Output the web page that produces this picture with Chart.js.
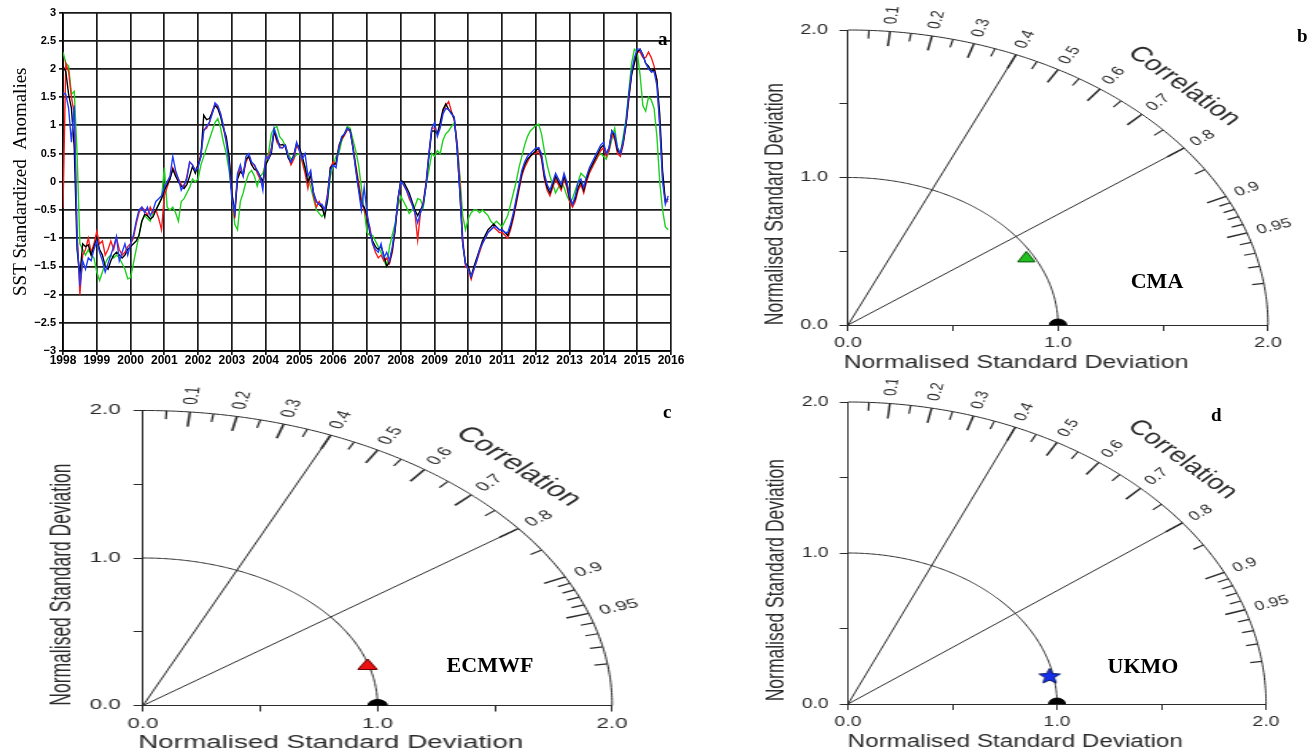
<!DOCTYPE html>
<html>
<head>
<meta charset="utf-8">
<title>SST anomalies and Taylor diagrams</title>
<script src="https://cdn.jsdelivr.net/npm/chart.js@4.4.1/dist/chart.umd.min.js"></script>
<style>
  html, body { margin: 0; padding: 0; background: #fff; }
  body { width: 1314px; height: 753px; position: relative; overflow: hidden; }
  .panel { position: absolute; transform-origin: 0 0; }
  .tag { position: absolute; font-family: "Liberation Serif", serif; font-weight: bold; color: #000; line-height: 1; white-space: nowrap; }
</style>
</head>
<body>
<canvas id="sstChart" width="700" height="372" style="position:absolute;left:0;top:0"></canvas>
<div class="panel" style="left:760px;top:0;transform:scaleX(1.4237)"><canvas id="taylorB" width="380" height="375"></canvas></div>
<div class="panel" style="left:40px;top:380px;transform:scaleX(1.59)"><canvas id="taylorC" width="390" height="373"></canvas></div>
<div class="panel" style="left:760px;top:380px;transform:scaleX(1.384)"><canvas id="taylorD" width="400" height="373"></canvas></div>

<div class="tag" style="left:658px;top:29px;font-size:19px">a</div>
<div class="tag" style="left:1297px;top:26px;font-size:19px">b</div>
<div class="tag" style="left:663px;top:402px;font-size:19px">c</div>
<div class="tag" style="left:1211px;top:405px;font-size:19px">d</div>
<div class="tag" style="left:1157px;top:270px;font-size:22px;transform:translateX(-50%)">CMA</div>
<div class="tag" style="left:490px;top:654px;font-size:22px;transform:translateX(-50%)">ECMWF</div>
<div class="tag" style="left:1143px;top:655px;font-size:22px;transform:translateX(-50%)">UKMO</div>

<script>
// monthly SST standardized anomalies, Jan 1998 - Dec 2015
const startYear = 1998;

const obsSST = [
  2.05, 1.95, 1.55, 1.3, 0.6, -1.2, -1.65, -1.1, -1.15, -1.12, -1.3, -1.15,
  -1.0, -1.2, -1.3, -1.5, -1.55, -1.4, -1.3, -1.25, -1.3, -1.35, -1.3, -1.2,
  -1.15, -1.1, -1.05, -0.95, -0.7, -0.58, -0.6, -0.66, -0.62, -0.5, -0.4, -0.3,
  -0.15, -0.05, 0.05, 0.22, 0.1, 0.0, -0.08, -0.12, -0.05, 0.1, 0.27, 0.15,
  0.3, 0.45, 1.18, 1.1, 1.12, 1.22, 1.35, 1.3, 1.15, 0.95, 0.8, 0.45,
  -0.2, -0.55, 0.05, 0.18, 0.12, 0.4, 0.45, 0.3, 0.22, 0.2, 0.1, 0.0,
  0.3, 0.4, 0.5, 0.9, 0.75, 0.65, 0.66, 0.62, 0.42, 0.35, 0.48, 0.68,
  0.6, 0.45, 0.25, 0.0, 0.12, -0.2, -0.35, -0.4, -0.45, -0.62, -0.3, 0.25,
  0.3, 0.33, 0.6, 0.78, 0.85, 0.95, 0.92, 0.6, 0.25, -0.1, -0.4, -0.45,
  -0.6, -0.9, -1.05, -1.15, -1.2, -1.15, -1.3, -1.5, -1.42, -1.2, -0.85, -0.3,
  0.02, 0.0, -0.1, -0.2, -0.35, -0.5, -0.6, -0.5, -0.4, -0.05, 0.45, 0.9,
  0.9, 0.85, 1.05, 1.28, 1.38, 1.28, 1.22, 1.12, 0.6, -0.2, -1.1, -1.45,
  -1.5, -1.68, -1.5, -1.35, -1.2, -1.05, -0.95, -0.85, -0.8, -0.75, -0.8, -0.85,
  -0.85, -0.9, -0.95, -0.8, -0.6, -0.35, -0.1, 0.15, 0.3, 0.4, 0.45, 0.5,
  0.55, 0.6, 0.45, 0.1, -0.1, -0.2, -0.05, 0.1, 0.0, -0.1, 0.1, -0.05,
  -0.3, -0.4, -0.3, -0.1, 0.0, -0.15, 0.05, 0.2, 0.3, 0.4, 0.5, 0.6,
  0.65, 0.5, 0.6, 0.9, 0.8, 0.55, 0.5, 0.7, 1.0, 1.5, 1.9, 2.1,
  2.3, 2.35, 2.25, 2.1, 2.05, 1.95, 2.0, 1.8, 1.2, 0.2, -0.35, -0.3
];

const ecmwfSST = [
  -0.47, 2.1, 1.95, 1.5, 1.2, -0.9, -2.0, -1.3, -1.2, -1.0, -1.25, -1.1,
  -0.88, -1.1, -1.05, -1.3, -1.2, -1.05, -1.2, -1.0, -1.2, -1.3, -1.25, -1.15,
  -1.1, -1.0, -0.75, -0.55, -0.45, -0.5, -0.6, -0.45, -0.55, -0.5, -0.65, -0.85,
  -0.25, -0.1, 0.05, 0.25, 0.15, 0.05, -0.05, -0.1, 0.1, 0.35, 0.3, 0.2,
  0.3, 0.5, 0.92, 0.95, 1.05, 1.25, 1.38, 1.33, 1.2, 0.95, 0.7, 0.4,
  -0.2, -0.65, 0.1, 0.25, 0.1, 0.35, 0.45, 0.3, 0.3, 0.15, 0.05, -0.05,
  0.4, 0.45, 0.6, 0.9, 0.7, 0.62, 0.6, 0.65, 0.45, 0.3, 0.4, 0.65,
  0.55, 0.35, 0.15, -0.12, 0.15, -0.25, -0.45, -0.35, -0.45, -0.5, -0.2, 0.25,
  0.35, 0.3, 0.65, 0.75, 0.82, 0.92, 0.9, 0.65, 0.3, 0.0, -0.3, -0.5,
  -0.65, -0.8, -1.1, -1.25, -1.35, -1.3, -1.4, -1.35, -1.45, -1.25, -0.85, -0.35,
  0.0, -0.05, -0.15, -0.3, -0.4, -0.55, -1.03, -0.55, -0.35, 0.0, 0.5, 0.95,
  0.95, 0.85, 1.0, 1.25, 1.35, 1.42, 1.25, 1.1, 0.7, 0.0, -1.0, -1.5,
  -1.55, -1.73, -1.55, -1.4, -1.25, -1.1, -1.0, -0.9, -0.85, -0.8, -0.85, -0.9,
  -0.9, -0.95, -1.0, -0.85, -0.65, -0.4, -0.15, 0.1, 0.25, 0.35, 0.45, 0.5,
  0.5, 0.55, 0.4, 0.05, -0.15, -0.25, -0.1, 0.05, -0.05, -0.15, 0.05, -0.1,
  -0.35, -0.45, -0.35, -0.15, -0.05, -0.2, 0.0, 0.15, 0.25, 0.35, 0.45, 0.55,
  0.6, 0.45, 0.55, 0.85, 0.75, 0.5, 0.45, 0.65, 1.0, 1.45, 1.9, 2.15,
  2.3, 2.3, 2.2, 2.2, 2.3, 2.2, 2.05, 1.8, 1.0, 0.1, -0.35, -0.35
];

const cmaSST = [
  2.3, 2.1, 2.05, 1.55, 1.6, 0.5, -1.1, -1.2, -1.3, -1.2, -1.3, -1.35,
  -1.6, -1.75, -1.6, -1.45, -1.35, -1.3, -1.35, -1.3, -1.35, -1.45, -1.55, -1.72,
  -1.7, -1.45, -1.2, -0.95, -0.7, -0.6, -0.65, -0.7, -0.55, -0.5, -0.4, -0.3,
  0.25, -0.45, -0.5, -0.45, -0.55, -0.7, -0.35, -0.3, -0.2, -0.1, 0.05, 0.0,
  0.05, 0.3, 0.45, 0.6, 0.75, 0.9, 1.05, 1.12, 0.95, 0.7, 0.5, 0.2,
  -0.2, -0.75, -0.85, -0.35, -0.2, 0.0, 0.15, 0.2, 0.1, -0.08, 0.09, 0.15,
  0.33, 0.5, 0.85, 0.95, 0.98, 0.8, 0.74, 0.63, 0.5, 0.4, 0.42, 0.48,
  0.5, 0.39, 0.27, 0.1, -0.1, -0.3, -0.5, -0.56, -0.62, -0.55, -0.35, 0.1,
  0.3, 0.45, 0.5, 0.72, 0.85, 0.98, 0.95, 0.75, 0.55, 0.3, -0.1, -0.5,
  -0.9, -0.95, -0.95, -1.05, -1.15, -1.25, -1.4, -1.5, -1.15, -0.94, -0.74, -0.44,
  -0.26, -0.35, -0.45, -0.56, -0.5, -0.44, -0.3, -0.32, -0.45, -0.05, 0.2, 0.5,
  0.45, 0.55, 0.5, 0.74, 0.85, 0.9, 0.98, 1.04, 0.7, 0.1, -0.6, -0.85,
  -0.65, -0.55, -0.5, -0.5, -0.55, -0.5, -0.55, -0.6, -0.7, -0.75, -0.7, -0.75,
  -0.8, -0.7, -0.6, -0.4, -0.2, 0.0, 0.25, 0.45, 0.65, 0.8, 0.9, 0.95,
  1.0, 1.02, 0.85, 0.55, 0.3, 0.1, -0.05, -0.2, -0.1, 0.0, -0.1, -0.25,
  -0.35, -0.3, -0.15, 0.0, 0.15, 0.1, 0.05, 0.2, 0.3, 0.35, 0.45, 0.5,
  0.45, 0.4, 0.55, 0.75, 0.95, 0.6, 0.5, 0.8, 1.1, 1.6, 2.1, 2.35,
  2.3, 1.9, 1.35, 1.25, 1.5, 1.45, 1.3, 0.8, 0.0, -0.5, -0.8, -0.85
];

const ukmoSST = [
  1.58, 1.55, 1.3, 0.7, 1.35, -1.0, -1.85, -1.4, -1.55, -1.35, -1.4, -1.2,
  -1.05, -1.25, -1.4, -1.6, -1.45, -1.3, -1.15, -0.97, -1.4, -1.25, -1.1, -1.3,
  -1.1, -0.95, -0.7, -0.5, -0.45, -0.55, -0.45, -0.6, -0.5, -0.35, -0.3, -0.25,
  -0.1, 0.0, 0.1, 0.45, 0.2, 0.05, -0.15, -0.05, 0.05, 0.35, 0.3, 0.2,
  0.25, 0.45, 0.9, 0.98, 1.05, 1.2, 1.4, 1.35, 1.2, 1.0, 0.7, 0.3,
  -0.3, -0.55, 0.15, 0.3, 0.1, 0.45, 0.5, 0.35, 0.3, 0.2, 0.1, -0.15,
  0.45, 0.4, 0.55, 0.95, 0.8, 0.6, 0.6, 0.65, 0.45, 0.35, 0.45, 0.7,
  0.55, 0.4, 0.5, 0.1, 0.2, -0.2, -0.35, -0.4, -0.4, -0.5, -0.25, 0.2,
  0.3, 0.25, 0.6, 0.8, 0.85, 0.95, 0.9, 0.6, 0.2, -0.15, -0.5, -0.1,
  -0.55, -0.85, -1.1, -1.2, -1.25, -1.1, -1.35, -1.25, -1.4, -1.15, -0.8, -0.3,
  0.0, -0.05, -0.15, -0.25, -0.4, -0.55, -0.73, -0.55, -0.4, -0.05, 0.5, 0.95,
  1.05, 0.8, 0.95, 1.2, 1.3, 1.28, 1.2, 1.15, 0.6, -0.2, -1.1, -1.45,
  -1.55, -1.68, -1.55, -1.4, -1.2, -1.1, -1.0, -0.9, -0.85, -0.8, -0.8, -0.85,
  -0.85, -0.9, -0.9, -0.75, -0.55, -0.3, -0.05, 0.2, 0.35, 0.45, 0.5, 0.55,
  0.6, 0.6, 0.5, 0.15, -0.05, -0.15, 0.0, 0.15, 0.05, -0.05, 0.15, 0.0,
  -0.25, -0.4, -0.25, 0.0, 0.05, -0.1, 0.1, 0.25, 0.35, 0.45, 0.55, 0.65,
  0.7, 0.5, 0.6, 0.9, 0.85, 0.6, 0.5, 0.7, 1.05, 1.55, 1.95, 2.2,
  2.35, 2.35, 2.25, 2.1, 2.0, 1.95, 1.95, 1.7, 1.0, 0.0, -0.4, -0.25
];

// Taylor statistics (normalised by observed std)
const models = ['CMA', 'ECMWF', 'UKMO'];
const modelStd = [0.962, 0.994, 0.982];
const modelCorr = [0.883, 0.963, 0.982];
const modelColors = ['#1fc01f', '#ee1111', '#1530e8'];
const modelEdge = ['#0b5a0b', '#6a0000', '#0a1660'];
const refStd = 1.0;

const corrLabels = [0.1, 0.2, 0.3, 0.4, 0.5, 0.6, 0.7, 0.8, 0.9, 0.95];
const corrMinor = [0.05, 0.15, 0.25, 0.35, 0.45, 0.55, 0.65, 0.75, 0.85, 0.91, 0.92, 0.93, 0.94, 0.96, 0.97, 0.98, 0.99];
const corrLines = [0.4, 0.8];
const stdRings = [1.0, 2.0];

const toPoints = arr => arr.map((v, i) => ({ x: startYear + i / 12, y: v }));

function line(label, data, color) {
  return { label: label, data: toPoints(data), borderColor: color, borderWidth: 1.4, pointRadius: 0, tension: 0, fill: false };
}

new Chart(document.getElementById('sstChart'), {
  type: 'line',
  data: {
    datasets: [
      line('UKMO', ukmoSST, '#1f3cff'),
      line('OBS', obsSST, '#000000'),
      line('ECMWF', ecmwfSST, '#ff1a1a'),
      line('CMA', cmaSST, '#1ed21e')
    ]
  },
  options: {
    responsive: false,
    animation: false,
    devicePixelRatio: 1,
    layout: { padding: { top: 12.5, right: 29, left: 0, bottom: 0 } },
    plugins: { legend: { display: false }, tooltip: { enabled: false } },
    scales: {
      x: {
        type: 'linear', min: 1998, max: 2016,
        afterFit: s => { s.height = 21; },
        ticks: { stepSize: 1, autoSkip: false, maxRotation: 0, padding: -2, color: '#000',
          font: { family: 'Liberation Sans', size: 12, weight: 'bold' }, callback: v => String(v) },
        grid: { color: '#1a1a1a', lineWidth: 1.7, tickLength: 4 },
        border: { color: '#000', width: 1.7 }
      },
      y: {
        min: -3, max: 3,
        afterFit: s => { s.width = 63; },
        ticks: { stepSize: 0.5, padding: 3, color: '#000',
          font: { family: 'Liberation Sans', size: 11, weight: 'bold' },
          callback: v => (v < 0 ? '\u2212' + Math.abs(v) : String(v)) },
        grid: { color: '#1a1a1a', lineWidth: 1.7, tickLength: 4 },
        border: { color: '#000', width: 1.7 },
        title: { display: true, text: 'SST Standardized  Anomalies', color: '#000',
          font: { family: 'Liberation Serif', size: 19 }, padding: { top: 10, bottom: 0 } }
      }
    }
  }
});

// draws arcs, correlation ticks and labels for a Taylor diagram
const taylorDecor = {
  id: 'taylorDecor',
  beforeDatasetsDraw(chart) {
    const ctx = chart.ctx;
    const xs = chart.scales.x, ys = chart.scales.y;
    const area = chart.chartArea;
    const pt = (r, c) => [xs.getPixelForValue(r * c), ys.getPixelForValue(r * Math.sqrt(1 - c * c))];
    const rMax = xs.max;
    ctx.save();
    ctx.strokeStyle = '#2b2b2b';
    ctx.fillStyle = '#2b2b2b';
    ctx.lineWidth = 1;

    stdRings.forEach(r => {
      ctx.beginPath();
      for (let k = 0; k <= 180; k++) {
        const p = pt(r, Math.cos(k * Math.PI / 360));
        if (k === 0) ctx.moveTo(p[0], p[1]); else ctx.lineTo(p[0], p[1]);
      }
      ctx.stroke();
    });

    corrLines.forEach(c => {
      const a = pt(0, c), b = pt(rMax, c);
      ctx.beginPath(); ctx.moveTo(a[0], a[1]); ctx.lineTo(b[0], b[1]); ctx.stroke();
    });

    const tick = (c, len, w) => {
      const a = pt(rMax, c), b = pt(rMax * (1 - len), c);
      ctx.lineWidth = w;
      ctx.beginPath(); ctx.moveTo(a[0], a[1]); ctx.lineTo(b[0], b[1]); ctx.stroke();
    };
    corrLabels.forEach(c => tick(c, 0.05, 1.5));
    corrMinor.forEach(c => tick(c, 0.028, 1.2));

    ctx.font = '13px "Liberation Sans"';
    ctx.textAlign = 'left';
    ctx.textBaseline = 'middle';
    corrLabels.forEach(c => {
      const p = pt(rMax * 1.025, c);
      ctx.save();
      ctx.translate(p[0], p[1]);
      ctx.rotate(-Math.acos(c));
      ctx.fillText(String(c), 0, 0);
      ctx.restore();
    });

    const cp = [xs.getPixelForValue(1.6), ys.getPixelForValue(1.62)];
    ctx.save();
    ctx.translate(cp[0], cp[1]);
    ctx.rotate(Math.PI / 4);
    ctx.textAlign = 'center';
    ctx.font = '21px "Liberation Sans"';
    ctx.fillText('Correlation', 0, 0);
    ctx.restore();

    const size = area.bottom - area.top;
    ctx.font = '17.5px "Liberation Sans"';
    ctx.textAlign = 'center';
    ctx.fillText('Normalised Standard Deviation', area.left + 0.4 * size, area.bottom + 38);
    ctx.save();
    ctx.translate(area.left - 51, area.top + 0.59 * size);
    ctx.rotate(-Math.PI / 2);
    ctx.fillText('Normalised Standard Deviation', 0, 0);
    ctx.restore();
    ctx.restore();
  }
};

function starImage(fill, edge) {
  const cv = document.createElement('canvas');
  cv.width = 18; cv.height = 18;
  const g = cv.getContext('2d');
  g.beginPath();
  for (let k = 0; k < 10; k++) {
    const r = k % 2 ? 3.6 : 8;
    const a = -Math.PI / 2 + k * Math.PI / 5;
    g.lineTo(9 + r * Math.cos(a), 9.5 + r * Math.sin(a));
  }
  g.closePath();
  g.fillStyle = fill; g.fill();
  g.strokeStyle = edge; g.lineWidth = 1; g.stroke();
  return cv;
}

function taylorChart(id, idx, pad, axisW, axisH, marker) {
  const std = modelStd[idx], corr = modelCorr[idx];
  const axisOpts = (fitKey, fitVal) => ({
    min: 0, max: 2,
    afterFit: s => { s[fitKey] = fitVal; },
    ticks: { stepSize: 0.5, color: '#2b2b2b', padding: fitKey === 'width' ? 8 : 4,
      font: { family: 'Liberation Sans', size: 14 },
      callback: v => (Number.isInteger(v) ? v.toFixed(1) : '') },
    grid: { drawOnChartArea: false, color: '#2b2b2b', tickLength: 6, lineWidth: 1 },
    border: { color: '#2b2b2b', width: 1 }
  });
  return new Chart(document.getElementById(id), {
    type: 'scatter',
    data: {
      datasets: [
        { label: models[idx], data: [{ x: std * corr, y: std * Math.sqrt(1 - corr * corr) }],
          pointStyle: marker, pointRadius: 7, backgroundColor: modelColors[idx], borderColor: modelEdge[idx], borderWidth: 1 },
        { label: 'Observed', data: [{ x: refStd, y: 0 }], pointStyle: 'circle', pointRadius: 6,
          backgroundColor: '#000', borderColor: '#000', clip: 0 }
      ]
    },
    options: {
      responsive: false,
      animation: false,
      devicePixelRatio: 1,
      layout: { padding: pad },
      plugins: { legend: { display: false }, tooltip: { enabled: false } },
      scales: { x: axisOpts('height', axisH), y: axisOpts('width', axisW) }
    },
    plugins: [taylorDecor]
  });
}

taylorChart('taylorB', 0, { top: 30, right: 23.2, left: 0, bottom: 0 }, 61.8, 50, 'triangle');
taylorChart('taylorC', 1, { top: 30.5, right: 30.2, left: 0, bottom: 0 }, 64.8, 47.5, 'triangle');
taylorChart('taylorD', 2, { top: 22, right: 34.4, left: 0, bottom: 0 }, 63.6, 49, starImage(modelColors[2], modelEdge[2]));
</script>
</body>
</html>
